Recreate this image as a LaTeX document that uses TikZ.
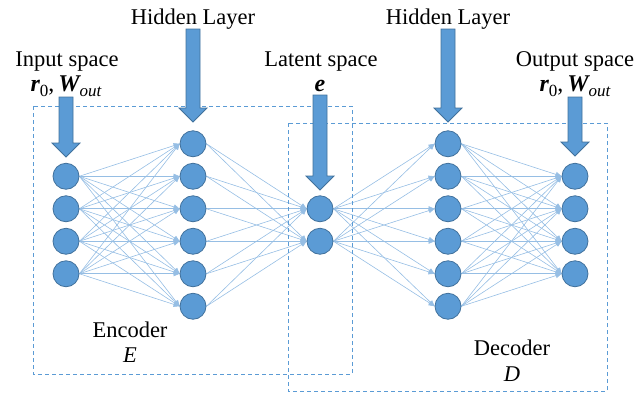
\documentclass[tikz,border=0pt]{standalone}
\usepackage{fontspec}
\setmainfont{Liberation Serif}
\usetikzlibrary{arrows.meta,calc}
\definecolor{nodeblue}{RGB}{91,155,213}
\definecolor{nodeedge}{RGB}{65,113,156}
\definecolor{linkblue}{RGB}{150,190,228}
\pgfdeclarelayer{bg}
\pgfsetlayers{bg,main}
\newcommand\lowidx[1]{\raisebox{-0.22em}{\fontsize{17}{17}\selectfont #1}}
\newcommand\blockarrow[2]{\draw[bigarrow] let \p1=(#1),\p2=(#2) in
  (\x1-7pt,\y1) -- (\x1+7pt,\y1) -- (\x1+7pt,\y2+14pt) -- (\x1+14pt,\y2+14pt)
  -- (\x1,\y2) -- (\x1-14pt,\y2+14pt) -- (\x1-7pt,\y2+14pt) -- cycle;}
\begin{document}
\begin{tikzpicture}[x=1pt,y=-1pt,
  neuron/.style={circle,fill=nodeblue,draw=nodeedge,line width=0.8pt,minimum size=26pt,inner sep=0pt},
  link/.style={draw=linkblue,line width=0.6pt,-{Triangle[length=6pt,width=5pt]}},
  region/.style={draw=nodeblue,dash pattern=on 4pt off 3pt,line width=1pt},
  lbl/.style={font=\fontsize{22.5}{26}\selectfont,inner sep=0pt,anchor=base},
  sym/.style={font=\fontsize{24}{26}\selectfont,inner sep=0pt,anchor=base},
  bigarrow/.style={fill=nodeblue,draw=nodeedge,line width=0.8pt,line join=miter}]
\useasboundingbox (0,0) rectangle (638,392);
% neurons
\foreach \k/\y in {1/176.25,2/208.75,3/241.25,4/273.75}{
  \node[neuron] (i\k) at (66,\y) {};
  \node[neuron] (o\k) at (575,\y) {};
}
\foreach \k/\y in {1/143.75,2/176.25,3/208.75,4/241.25,5/273.75,6/306.25}{
  \node[neuron] (h\k) at (193,\y) {};
  \node[neuron] (g\k) at (448,\y) {};
}
\node[neuron] (l1) at (320,208.75) {};
\node[neuron] (l2) at (320,241.25) {};
% links and regions
\begin{pgfonlayer}{bg}
  \foreach \a in {1,...,4}{\foreach \b in {1,...,6}{\draw[link] (i\a.east) -- (h\b.west);}}
  \foreach \a in {1,...,6}{\foreach \b in {1,2}{\draw[link] (h\a.east) -- (l\b.west);}}
  \foreach \a in {1,2}{\foreach \b in {1,...,6}{\draw[link] (l\a.east) -- (g\b.west);}}
  \foreach \a in {1,...,6}{\foreach \b in {1,...,4}{\draw[link] (g\a.east) -- (o\b.west);}}
  \draw[region] (33,106) rectangle (352,374);
  \draw[region] (288,123) rectangle (607,391);
\end{pgfonlayer}
% labels
\node[lbl] (hl1) at (193,24) {Hidden Layer};
\node[lbl] (hl2) at (448,24) {Hidden Layer};
\node[lbl] (ins) at (67,66) {Input space};
\node[sym] (inv) at (66,91) {{\bfseries\itshape r}\lowidx{0},\,{\bfseries\itshape W}\lowidx{\itshape out}};
\node[lbl] (lat) at (321,66) {Latent space};
\node[sym] (latv) at (320,91) {{\bfseries\itshape e}};
\node[lbl] (outs) at (575,66) {Output space};
\node[sym] (outv) at (575,91) {{\bfseries\itshape r}\lowidx{0},\,{\bfseries\itshape W}\lowidx{\itshape out}};
\node[lbl] (enc) at (130,337) {Encoder};
\node[lbl] (encE) at (130,362) {\itshape E};
\node[lbl] (dec) at (512,355) {Decoder};
\node[lbl] (decD) at (512,381) {\itshape D};
% block arrows
\coordinate (a1t) at (66,97);  \coordinate (a1b) at (66,157);
\coordinate (a2t) at (193,29); \coordinate (a2b) at (193,122);
\coordinate (a3t) at (320,95); \coordinate (a3b) at (320,190);
\coordinate (a4t) at (448,29); \coordinate (a4b) at (448,122);
\coordinate (a5t) at (575,97); \coordinate (a5b) at (575,156);
\blockarrow{a1t}{a1b}
\blockarrow{a2t}{a2b}
\blockarrow{a3t}{a3b}
\blockarrow{a4t}{a4b}
\blockarrow{a5t}{a5b}
\end{tikzpicture}
\end{document}
